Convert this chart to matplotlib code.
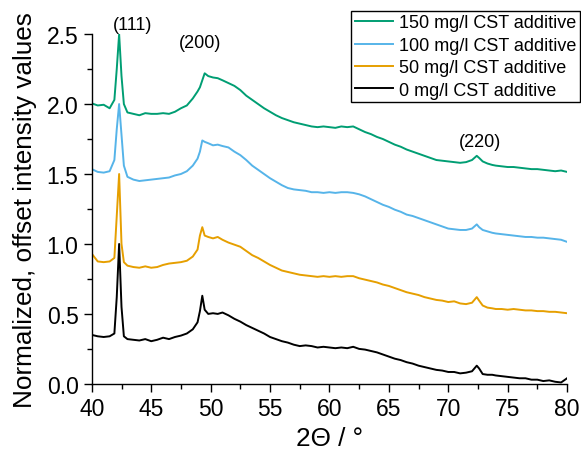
import matplotlib
matplotlib.use('Agg')
import matplotlib.pyplot as plt
from matplotlib.ticker import MultipleLocator

plt.rcParams['font.family'] = ['Liberation Sans', 'DejaVu Sans']

# 2-theta grid (deg), denser around the reflections
two_theta = [40, 40.5, 41, 41.5, 41.9, 42.1, 42.3, 42.5, 42.7, 43,
             43.5, 44, 44.5, 45, 45.5, 46, 46.5, 47, 47.5, 48,
             48.5, 48.9, 49.1, 49.3, 49.5, 49.8, 50.2, 50.6, 51, 51.5,
             52, 52.5, 53, 53.5, 54, 54.5, 55, 55.5, 56, 56.5,
             57, 57.5, 58, 58.5, 59, 59.5, 60, 60.5, 61, 61.5,
             62, 62.5, 63, 63.5, 64, 64.5, 65, 65.5, 66, 66.5,
             67, 67.5, 68, 68.5, 69, 69.5, 70, 70.5, 71, 71.5,
             72, 72.2, 72.4, 72.6, 72.9, 73.3, 73.7, 74, 74.5, 75,
             75.5, 76, 76.5, 77, 77.5, 78, 78.5, 79, 79.5, 80]

# normalized intensities, already offset
i_0mg = [0.35, 0.34, 0.335, 0.34, 0.36, 0.62, 1.00, 0.55, 0.34, 0.32,
         0.315, 0.31, 0.32, 0.305, 0.315, 0.33, 0.32, 0.335, 0.345, 0.36,
         0.39, 0.44, 0.52, 0.63, 0.53, 0.50, 0.505, 0.50, 0.51, 0.49,
         0.465, 0.445, 0.42, 0.40, 0.38, 0.36, 0.335, 0.32, 0.305, 0.295,
         0.28, 0.27, 0.275, 0.27, 0.26, 0.265, 0.26, 0.255, 0.26, 0.255,
         0.265, 0.25, 0.245, 0.235, 0.225, 0.21, 0.195, 0.18, 0.17, 0.155,
         0.145, 0.13, 0.12, 0.11, 0.10, 0.095, 0.085, 0.085, 0.075, 0.08,
         0.09, 0.11, 0.13, 0.11, 0.07, 0.065, 0.065, 0.06, 0.055, 0.05,
         0.045, 0.04, 0.04, 0.03, 0.03, 0.02, 0.025, 0.015, 0.01, 0.04]

i_50mg = [0.93, 0.875, 0.87, 0.875, 0.90, 1.20, 1.50, 1.00, 0.87, 0.845,
          0.835, 0.83, 0.84, 0.83, 0.835, 0.85, 0.86, 0.865, 0.87, 0.88,
          0.91, 0.96, 1.06, 1.12, 1.06, 1.05, 1.04, 1.05, 1.03, 1.01,
          0.995, 0.98, 0.95, 0.92, 0.90, 0.875, 0.85, 0.83, 0.81, 0.80,
          0.79, 0.78, 0.775, 0.77, 0.765, 0.77, 0.765, 0.77, 0.765, 0.77,
          0.77, 0.755, 0.745, 0.735, 0.725, 0.71, 0.70, 0.685, 0.67, 0.655,
          0.645, 0.635, 0.62, 0.61, 0.60, 0.595, 0.585, 0.59, 0.575, 0.57,
          0.58, 0.60, 0.62, 0.595, 0.56, 0.545, 0.54, 0.535, 0.535, 0.53,
          0.535, 0.53, 0.525, 0.525, 0.52, 0.52, 0.515, 0.515, 0.51, 0.505]

i_100mg = [1.535, 1.515, 1.51, 1.52, 1.60, 1.82, 2.00, 1.78, 1.56, 1.48,
           1.46, 1.45, 1.455, 1.46, 1.465, 1.47, 1.475, 1.49, 1.50, 1.52,
           1.56, 1.61, 1.66, 1.74, 1.73, 1.72, 1.705, 1.71, 1.70, 1.69,
           1.66, 1.635, 1.60, 1.56, 1.53, 1.50, 1.47, 1.445, 1.42, 1.40,
           1.39, 1.385, 1.38, 1.37, 1.37, 1.365, 1.37, 1.365, 1.37, 1.37,
           1.365, 1.355, 1.34, 1.32, 1.30, 1.28, 1.265, 1.245, 1.23, 1.21,
           1.20, 1.185, 1.17, 1.155, 1.14, 1.125, 1.11, 1.105, 1.10, 1.10,
           1.11, 1.125, 1.14, 1.12, 1.10, 1.09, 1.08, 1.075, 1.07, 1.065,
           1.06, 1.055, 1.05, 1.05, 1.045, 1.045, 1.04, 1.035, 1.03, 1.015]

i_150mg = [2.005, 1.99, 1.995, 1.97, 2.03, 2.25, 2.50, 2.20, 2.00, 1.94,
           1.93, 1.92, 1.935, 1.93, 1.93, 1.935, 1.93, 1.945, 1.97, 1.99,
           2.04, 2.09, 2.12, 2.17, 2.22, 2.20, 2.19, 2.185, 2.17, 2.15,
           2.13, 2.10, 2.06, 2.03, 2.00, 1.97, 1.945, 1.92, 1.90, 1.885,
           1.87, 1.86, 1.85, 1.84, 1.835, 1.84, 1.835, 1.83, 1.84, 1.835,
           1.84, 1.82, 1.80, 1.785, 1.765, 1.75, 1.73, 1.71, 1.695, 1.675,
           1.66, 1.645, 1.63, 1.615, 1.60, 1.595, 1.59, 1.585, 1.58, 1.585,
           1.60, 1.615, 1.63, 1.615, 1.59, 1.575, 1.565, 1.56, 1.555, 1.55,
           1.55, 1.545, 1.54, 1.535, 1.535, 1.53, 1.525, 1.52, 1.525, 1.515]

labels = ['150 mg/l CST additive', '100 mg/l CST additive',
          '50 mg/l CST additive', '0 mg/l CST additive']
series = [i_150mg, i_100mg, i_50mg, i_0mg]
colors = ['#009E73', '#56B4E9', '#E69F00', '#000000']

# reflection labels: (text, 2theta, y)
reflections = [('(111)', 43.4, 2.57), ('(200)', 49.1, 2.44), ('(220)', 72.65, 1.73)]

fig = plt.figure(figsize=(5.81, 4.56), dpi=100)
ax = fig.add_axes([0.158, 0.156, 0.818, 0.767])

for y, c, lab in zip(series, colors, labels):
    ax.plot(two_theta, y, color=c, linewidth=1.4, label=lab)

for txt, xx, yy in reflections:
    ax.text(xx, yy, txt, fontsize=13, ha='center', va='center')

ax.set_xlim(40, 80)
ax.set_ylim(0, 2.5)
ax.xaxis.set_major_locator(MultipleLocator(5))
ax.xaxis.set_minor_locator(MultipleLocator(2.5))
ax.yaxis.set_major_locator(MultipleLocator(0.5))
ax.yaxis.set_minor_locator(MultipleLocator(0.25))
ax.yaxis.set_major_formatter(plt.FormatStrFormatter('%.1f'))
ax.tick_params(which='major', direction='out', length=6, width=1, labelsize=16.5)
ax.tick_params(which='minor', direction='out', length=3.5, width=1)
for s in ['top', 'right']:
    ax.spines[s].set_visible(False)
for s in ['left', 'bottom']:
    ax.spines[s].set_linewidth(1)

ax.set_xlabel('2Θ / °', fontsize=18.8)
ax.set_ylabel('Normalized, offset intensity values', fontsize=18.8, labelpad=7)

leg = ax.legend(loc='upper right', bbox_to_anchor=(0.998, 0.974),
                bbox_transform=fig.transFigure, fontsize=13, frameon=True,
                fancybox=False, edgecolor='black', framealpha=1,
                borderpad=0.2, labelspacing=0.3, handlelength=2.1,
                handletextpad=0.35, borderaxespad=0)
leg.get_frame().set_linewidth(1)

fig.savefig('out.png', dpi=100)
